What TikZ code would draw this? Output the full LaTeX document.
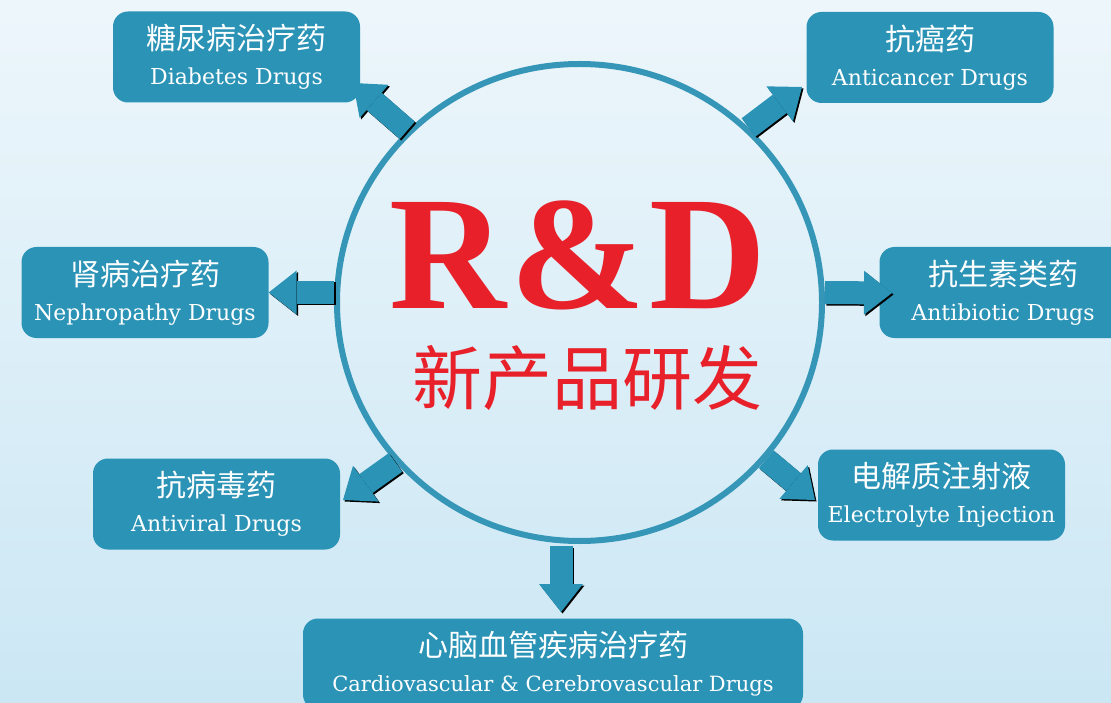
\documentclass[tikz,border=0pt]{standalone}
\usepackage{fontspec}
\setmainfont{DejaVu Serif}
\newfontfamily\cjk{Noto Sans CJK SC}
\newfontfamily\rdfont{Liberation Serif}
\usetikzlibrary{shapes.geometric, positioning, arrows.meta}

\definecolor{boxblue}{HTML}{2A93B6}
\definecolor{ringblue}{HTML}{3596B7}
\definecolor{rdred}{HTML}{E8202A}
\definecolor{bgtop}{HTML}{EDF6FB}
\definecolor{bgbot}{HTML}{CBE7F4}

\tikzset{
  drugbox/.style={fill=boxblue, rounded corners=15pt, minimum width=247pt, minimum height=91pt,
    inner sep=0pt, text=white, align=center, font=\fontsize{22}{35}\selectfont},
  blockarr/.style={draw=boxblue, line width=23pt, -{Triangle[width=44pt,length=28pt,line width=0pt]}},
  arrshade/.style={blockarr, draw=black, transform canvas={shift={(1.5pt,-1.5pt)}}},
}
\newcommand{\drug}[2]{{\cjk\fontsize{30}{36}\selectfont #1}\\#2}

\begin{document}
\begin{tikzpicture}[x=1pt, y=-1pt]
\useasboundingbox (0,0) rectangle (1111,703);
\fill[top color=bgtop, bottom color=bgbot] (0,0) rectangle (1111,703);

% centre ring and title
\node[ellipse, draw=ringblue, line width=6pt, minimum width=485pt, minimum height=477pt, inner sep=0pt] (rd) at (579.5,302.5) {};
\node[text=rdred, font=\rdfont\bfseries\fontsize{162}{164}\selectfont] (rdtitle) at (578,255) {R\kern4pt\&\kern4pt D};
\node[text=rdred, font=\cjk\fontsize{70}{80}\selectfont] (rdsub) at (587,378) {新产品研发};

% product boxes
\node[drugbox] (diab) at (236.5,57) {\drug{糖尿病治疗药}{Diabetes Drugs}};
\node[drugbox] (cancer) at (930,57.5) {\drug{抗癌药}{Anticancer Drugs}};
\node[drugbox] (neph) at (145,292.5) {\drug{肾病治疗药}{Nephropathy Drugs}};
\node[drugbox] (bio) at (1003,292.5) {\drug{抗生素类药}{Antibiotic Drugs}};
\node[drugbox] (vir) at (216.5,504) {\drug{抗病毒药}{Antiviral Drugs}};
\node[drugbox] (elec) at (941.5,495) {\drug{电解质注射液}{Electrolyte Injection}};
\node[drugbox, minimum width=500pt, font=\fontsize{21}{35}\selectfont] (cardio) at (553,664) {\drug{心脑血管疾病治疗药}{Cardiovascular \& Cerebrovascular Drugs}};

% arrow tips
\coordinate (tipDiab) at (353,83);
\coordinate (tipCancer) at (802,87);
\coordinate (tipBio) at (892,293);
\coordinate (tipVir) at (343,500);
\coordinate (tipElec) at (815,500);
\coordinate (tailCardio) at (561,546);
\coordinate (tipCardio) at (561,612);

\foreach \from/\to in {rd.135/tipDiab, rd.46/tipCancer, rd.west |- neph.east/neph.east,
    rd.east |- bio.west/tipBio, rd.221/tipVir, rd.320/tipElec, tailCardio/tipCardio}{
  \draw[arrshade] (\from) -- (\to);
  \draw[blockarr] (\from) -- (\to);
}
\end{tikzpicture}
\end{document}
